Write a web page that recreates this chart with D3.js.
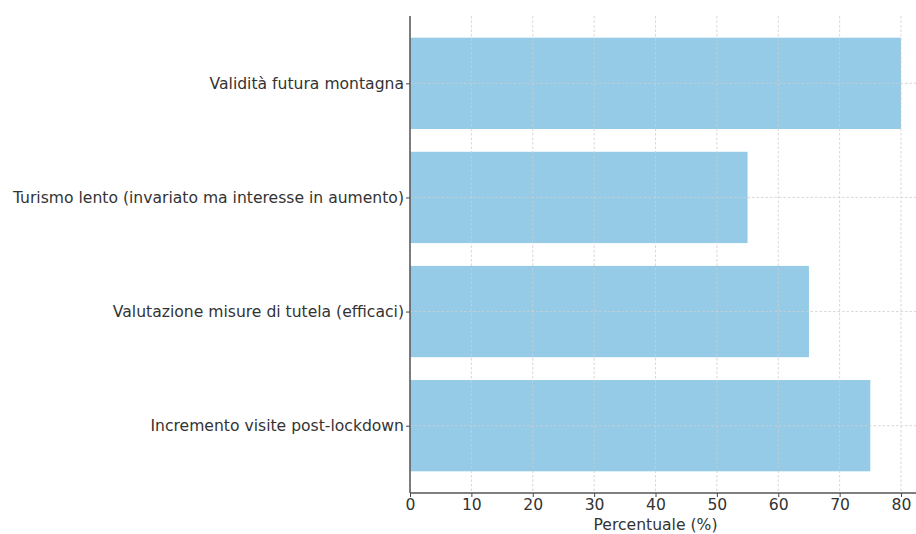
<!DOCTYPE html>
<html><head><meta charset="utf-8">
<script src="https://cdn.jsdelivr.net/npm/d3@7"></script>
<style>body{margin:0;background:#fff}svg{display:block}text{font-family:"DejaVu Sans",sans-serif}</style>
</head><body>
<svg id="c" width="916" height="534"></svg>
<script>
const categories = ["Incremento visite post-lockdown","Valutazione misure di tutela (efficaci)","Turismo lento (invariato ma interesse in aumento)","Validità futura montagna"];
const values = [75, 65, 55, 80];
const xTicks = [0,10,20,30,40,50,60,70,80];
const xLabel = "Percentuale (%)";

(function(){
const svg = d3.select("#c");
const mLeft = 410, mTop = 16, mBottom = 493;
const fs = "15.6px";
const x = d3.scaleLinear().domain([0, 84]).range([mLeft, mLeft + 84*6.1375]);
const y = d3.scaleLinear().domain([-0.59, 3.59]).range([mBottom, mTop]);
const barH = y(0) - y(0.8);

svg.append("g").selectAll("rect").data(values).join("rect")
  .attr("x", x(0)).attr("y", (d,i)=>y(i+0.4))
  .attr("width", d=>x(d)-x(0)).attr("height", barH)
  .attr("fill", "#95cbe7");

const grid = svg.append("g").attr("stroke","#cfcfcf").attr("stroke-width",1).attr("stroke-dasharray","2.5,2").attr("opacity",0.8);
grid.selectAll(".vx").data(xTicks).join("line")
  .attr("x1", d=>x(d)).attr("x2", d=>x(d)).attr("y1", mTop).attr("y2", mBottom);
grid.selectAll(".hy").data(categories).join("line")
  .attr("x1", mLeft).attr("x2", 916).attr("y1", (d,i)=>y(i)).attr("y2", (d,i)=>y(i));

const xAxis = d3.axisBottom(x).tickValues(xTicks).tickSize(4).tickPadding(2);
const gx = svg.append("g").attr("transform",`translate(0,${mBottom})`).call(xAxis);
gx.select(".domain").remove();
gx.selectAll("line").attr("stroke","#444");
gx.selectAll("text").attr("font-size",fs).attr("fill","#333").attr("font-family","DejaVu Sans");
svg.append("line").attr("x1",mLeft).attr("x2",916).attr("y1",mBottom).attr("y2",mBottom).attr("stroke","#555").attr("stroke-width",1.5);

const yAxis = d3.axisLeft(y).tickValues(d3.range(categories.length)).tickFormat(i=>categories[i]).tickSize(4).tickPadding(2);
const gy = svg.append("g").attr("transform",`translate(${mLeft},0)`).call(yAxis);
gy.select(".domain").remove();
gy.selectAll("line").attr("stroke","#444");
gy.selectAll("text").attr("font-size",fs).attr("fill","#333").attr("font-family","DejaVu Sans");
svg.append("line").attr("x1",mLeft).attr("x2",mLeft).attr("y1",mTop).attr("y2",mBottom).attr("stroke","#555").attr("stroke-width",1.5);

svg.append("text").attr("x", x(40)).attr("y", 530).attr("text-anchor","middle")
  .attr("font-size",fs).attr("fill","#333").text(xLabel);
})();
</script>
</body></html>
